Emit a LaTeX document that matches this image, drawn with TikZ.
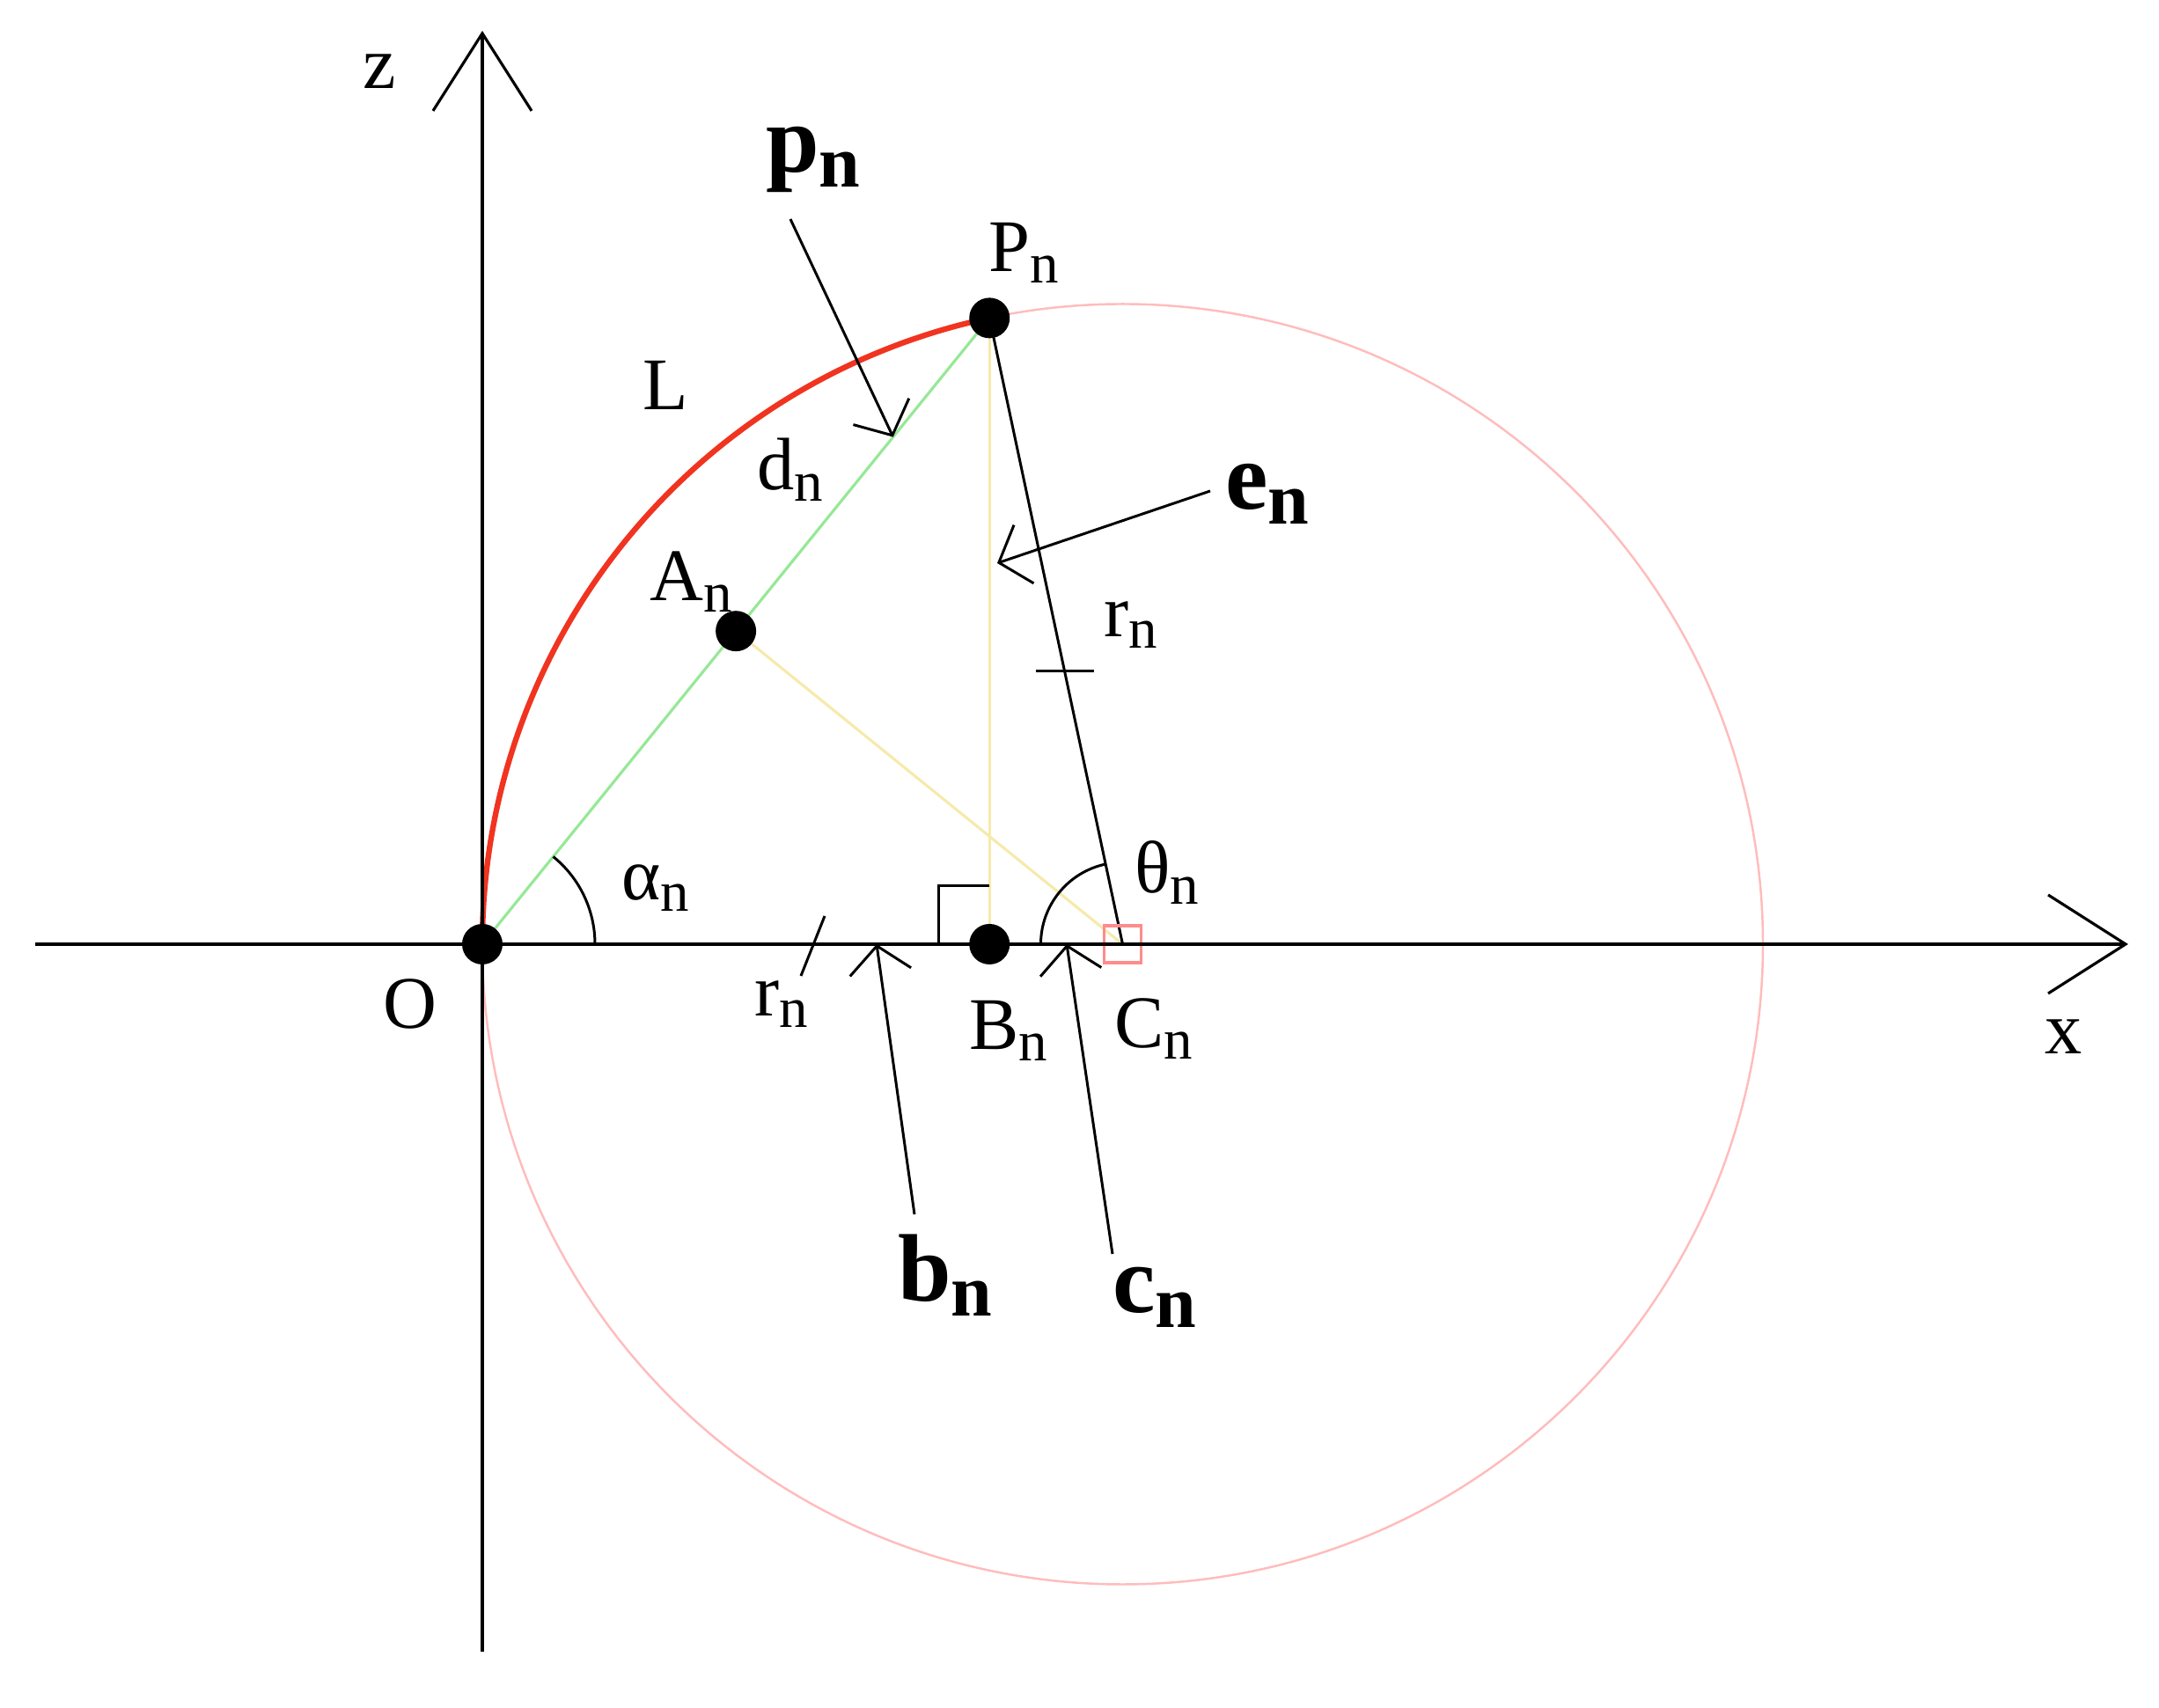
\documentclass[tikz,border=0pt]{standalone}
\usepackage{fontspec}
\setmainfont{Liberation Serif}
\usepackage{graphicx}
\usetikzlibrary{arrows.meta,calc,positioning}
\definecolor{arcred}{RGB}{240,52,32}
\definecolor{circpink}{RGB}{255,188,188}
\definecolor{boxpink}{RGB}{255,140,140}
\definecolor{chordgreen}{RGB}{150,232,150}
\definecolor{lineyellow}{RGB}{246,234,172}
\newcommand{\idx}[1]{\raisebox{-0.15em}{\scalebox{0.77}{#1}}}
\tikzset{
  lbl/.style={inner sep=0pt, anchor=base, font=\fontsize{24}{28}\selectfont},
  veclbl/.style={inner sep=0pt, anchor=base, font=\fontsize{31}{36}\selectfont\bfseries},
  axis/.style={line width=1.1pt, -{Straight Barb[length=0.88cm,width=1.12cm,line width=0.9pt]}},
  pointer/.style={line width=0.85pt, -{Straight Barb[length=0.3cm,width=0.7cm,line width=0.85pt]}},
  blk/.style={line width=0.85pt},
  dot/.style={circle, fill=black, inner sep=0pt, minimum size=0.46cm}
}
\begin{document}
\begin{tikzpicture}
\useasboundingbox (-5.48,-8.68) rectangle (19.05,10.73);
\coordinate (O) at (0,0);
\coordinate (C) at (7.275,0);
\coordinate (P) at ($(C)+(102:7.275)$);
\coordinate (A) at ($(O)!0.5!(P)$);
\coordinate (B) at (P |- O);
\coordinate (zlo) at (0,-8.04);
\coordinate (zhi) at (0,10.38);
\coordinate (xlo) at (-5.08,0);
\coordinate (xhi) at (18.70,0);

\draw[circpink, line width=0.7pt] (C) circle (7.275);
\draw[arcred, line width=1.8pt] (O) arc (180:102:7.275);
\draw[chordgreen, line width=0.9pt] (O) -- (P);
\draw[lineyellow, line width=0.9pt] (P) -- (B);
\draw[lineyellow, line width=0.9pt] (A) -- (C);
\draw[blk] (P) -- (C);
\draw[boxpink, line width=0.9pt] ($(C)+(-0.21,-0.21)$) rectangle ($(C)+(0.21,0.21)$);

\draw[axis] (zlo) -- (zhi);
\draw[axis] (xlo) -- (xhi);

\draw[blk] ($(B)+(-0.58,0)$) -- ++(0,0.66) -- ++(0.58,0);
\draw[blk] (1.28,0) arc (0:51:1.28);
\draw[blk] ($(C)+(-0.93,0)$) arc (180:102:0.93);
\coordinate (T) at ($(C)!0.436!(P)$);
\draw[blk] ($(T)+(-0.33,0)$) -- ($(T)+(0.33,0)$);
\draw[blk] (3.62,-0.36) -- (3.89,0.32);

\coordinate (pstart) at (3.50,8.24);
\coordinate (ptip) at ($(O)!0.81!(P)$);
\coordinate (estart) at (8.27,5.15);
\coordinate (etip) at (5.85,4.33);
\coordinate (bstart) at (4.91,-3.07);
\coordinate (btip) at (4.48,0);
\coordinate (cstart) at (7.16,-3.52);
\coordinate (ctip) at (6.64,0);
\draw[pointer] (pstart) -- (ptip);
\draw[pointer] (estart) -- (etip);
\draw[pointer] (bstart) -- (btip);
\draw[pointer] (cstart) -- (ctip);

\node[dot] (Odot) at (O) {};
\node[dot] (Adot) at (A) {};
\node[dot] (Pdot) at (P) {};
\node[dot] (Bdot) at (B) {};

\node[lbl] (zlab) at (-1.17,9.72) {z};
\node[lbl] (xlab) at (17.97,-1.25) {x};
\node[lbl] (Olab) at (-0.82,-0.96) {O};
\node[lbl] (Llab) at (2.08,6.07) {L};
\node[lbl] (dlab) at (3.50,5.16) {d\idx{n}};
\node[lbl] (Alab) at (2.37,3.90) {A\idx{n}};
\node[lbl] (Plab) at (6.15,7.64) {P\idx{n}};
\node[lbl] (rlab) at (7.37,3.49) {r\idx{n}};
\node[lbl] (alab) at (1.97,0.50) {α\idx{n}};
\node[lbl] (tlab) at (7.78,0.58) {θ\idx{n}};
\node[lbl] (rlab2) at (3.40,-0.82) {r\idx{n}};
\node[lbl] (Blab) at (5.98,-1.20) {B\idx{n}};
\node[lbl] (Clab) at (7.63,-1.18) {C\idx{n}};
\node[veclbl] (pvec) at (3.76,8.77) {p\idx{n}};
\node[veclbl] (evec) at (8.92,4.94) {e\idx{n}};
\node[veclbl] (bvec) at (5.26,-4.06) {b\idx{n}};
\node[veclbl] (cvec) at (7.64,-4.19) {c\idx{n}};
\end{tikzpicture}
\end{document}
